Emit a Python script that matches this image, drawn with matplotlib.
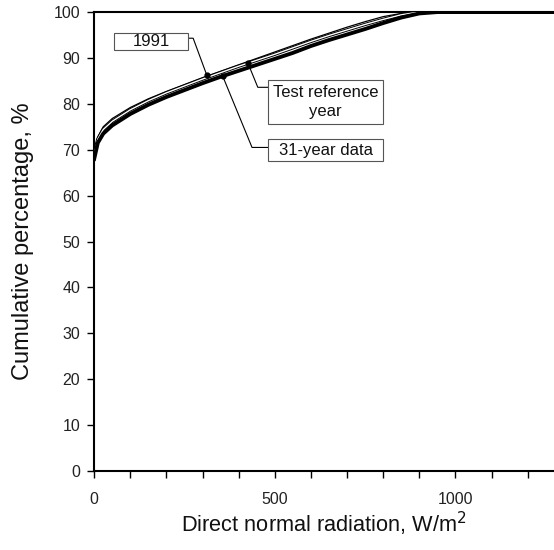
import matplotlib
matplotlib.use("Agg")
import matplotlib.pyplot as plt
from matplotlib.ticker import MultipleLocator
from matplotlib.patches import Rectangle

plt.rcParams['font.family'] = ['Liberation Sans', 'DejaVu Sans']

radiation = [0, 10, 25, 50, 100, 150, 200, 250, 300, 350, 400, 450, 500, 550,
             600, 650, 700, 750, 800, 850, 900, 950, 1300]
data_31yr = [68, 71.5, 73.5, 75.3, 77.8, 79.8, 81.5, 83.0, 84.5, 85.9, 87.2, 88.5,
             89.8, 91.1, 92.6, 93.9, 95.1, 96.3, 97.6, 98.8, 99.7, 100, 100]
data_1991 = [69.5, 72.8, 75, 76.8, 79.2, 81.1, 82.7, 84.2, 85.7, 87.1, 88.5, 89.9,
             91.3, 92.7, 94.1, 95.4, 96.7, 97.9, 99.0, 99.7, 100, 100, 100]
data_try = [69, 72.3, 74.4, 76.2, 78.7, 80.7, 82.4, 83.9, 85.4, 86.8, 88.2, 89.5,
            90.8, 92.2, 93.6, 94.9, 96.1, 97.3, 98.4, 99.4, 100, 100, 100]

labels = ["1991", "Test reference\nyear", "31-year data"]
targets = [(312, 86.2), (426, 88.8), (356, 86.0)]
elbows = [(274, 94.3), (453, 83.6), (437, 70.5)]
boxes = [(55, 260, 91.7, 95.4), (481, 800, 75.5, 85.3), (481, 800, 67.5, 72.3)]

fig = plt.figure(figsize=(5.54, 5.50), dpi=100)
ax = fig.add_axes([0.170, 0.1436, 0.830, 0.8345])

ax.plot(radiation, data_1991, color='black', lw=0.9, zorder=3)
ax.plot(radiation, data_try, color='black', lw=2.4, zorder=3)
ax.plot(radiation, data_try, color='white', lw=1.0, zorder=3)
ax.plot(radiation, data_31yr, color='black', lw=2.8, zorder=4)

ax.set_xlim(0, 1273)
ax.set_ylim(0, 100)
ax.xaxis.set_major_locator(MultipleLocator(500))
ax.xaxis.set_minor_locator(MultipleLocator(100))
ax.yaxis.set_major_locator(MultipleLocator(10))
ax.tick_params(axis='both', which='both', direction='out', length=5, width=1,
               labelsize=11.5, colors='black', labelcolor='#222222')
ax.tick_params(axis='x', pad=10)
ax.tick_params(axis='y', pad=5)
for s in ['left', 'bottom', 'top']:
    ax.spines[s].set_linewidth(1.5)
ax.spines['right'].set_visible(False)

ax.set_xlabel("Direct normal radiation, W/m$^2$", fontsize=15.7, labelpad=2,
              color='#111111')
ax.set_ylabel("Cumulative percentage, %", fontsize=17, labelpad=14,
              color='#111111')

for lab, tgt, elb, bx in zip(labels, targets, elbows, boxes):
    x0, x1, y0, y1 = bx
    edge = x1 if elb[0] > x1 else x0
    ax.plot([edge, elb[0], tgt[0]], [elb[1], elb[1], tgt[1]],
            color='black', lw=0.8, zorder=5)
    ax.plot(tgt[0], tgt[1], 'o', color='black', ms=3.5, zorder=6)
    ax.add_patch(Rectangle((x0, y0), x1 - x0, y1 - y0, fc='white',
                           ec='#555555', lw=0.8, zorder=6))
    ax.text((x0 + x1) / 2, (y0 + y1) / 2, lab, ha='center', va='center',
            fontsize=12, linespacing=1.35, zorder=7, color='#111111')

fig.savefig("out.png", dpi=100)
